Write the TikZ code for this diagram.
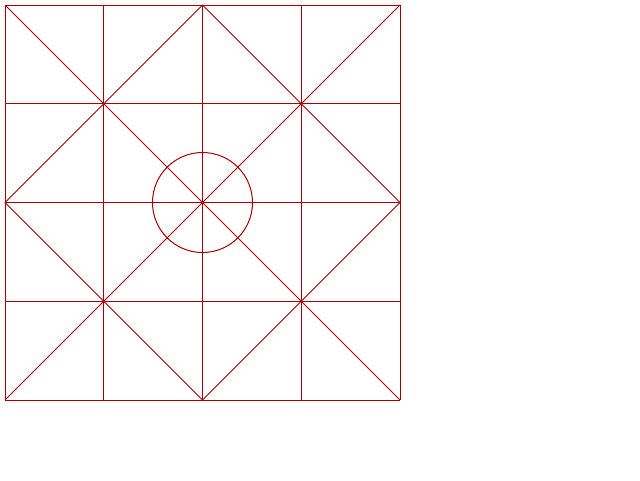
\documentclass[tikz,border=0pt]{standalone}
\usetikzlibrary{calc}
\definecolor{GridRed}{RGB}{168,0,0}
\tikzset{
  gridline/.style={draw=GridRed,line width=1pt},
  guide/.style={draw=GridRed,line width=0.9pt}
}
\begin{document}
\begin{tikzpicture}[x=1pt,y=-1pt]
  \useasboundingbox (0,0) rectangle (640,480);
  % square grid, four cells a side
  \foreach \k in {0,...,4}{
    \draw[gridline] (5+98.75*\k,5) -- (5+98.75*\k,400);
    \draw[gridline] (5,5+98.75*\k) -- (400,5+98.75*\k);
  }
  \coordinate (tl) at (5,5);
  \coordinate (tr) at (400,5);
  \coordinate (bl) at (5,400);
  \coordinate (br) at (400,400);
  \coordinate (ctr) at (202.5,202.5);
  % diagonals and inner diamond
  \draw[guide] (tl) -- (br);
  \draw[guide] (bl) -- (tr);
  \draw[guide] ($(tl)!0.5!(tr)$) -- ($(tr)!0.5!(br)$) -- ($(bl)!0.5!(br)$)
    -- ($(tl)!0.5!(bl)$) -- cycle;
  \draw[gridline] (ctr) circle (50);
\end{tikzpicture}
\end{document}
